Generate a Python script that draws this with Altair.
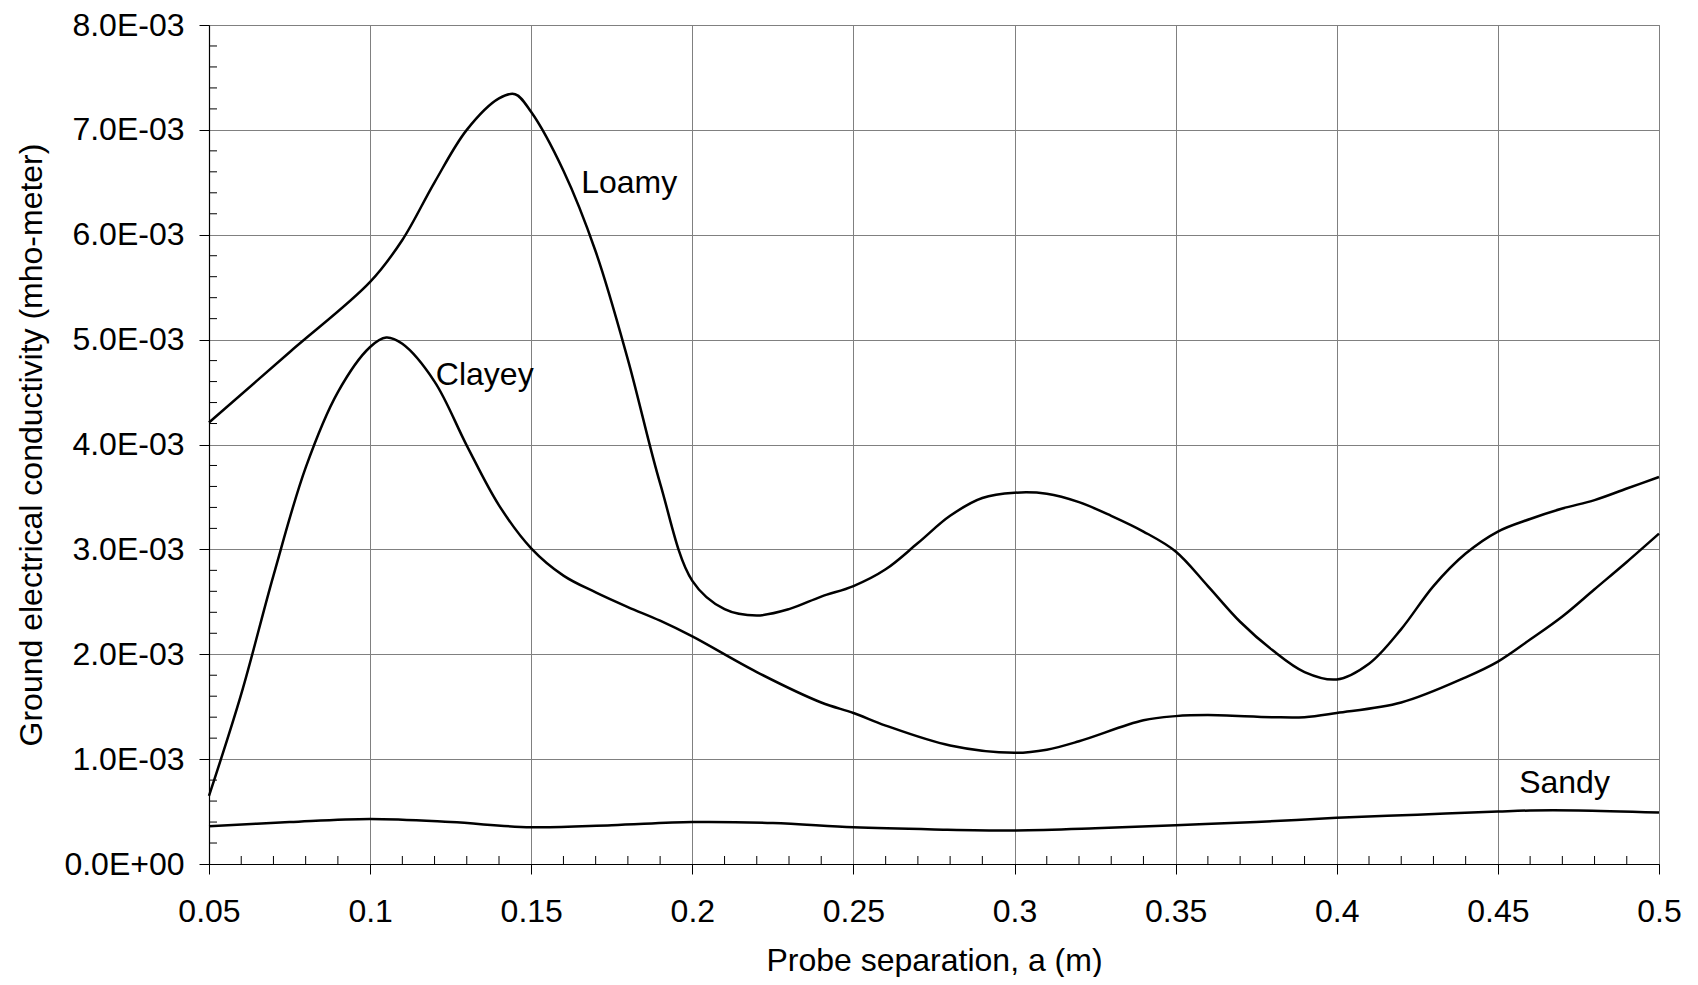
import altair as alt
import pandas as pd

# ---- data ----
loamy_x = [0.05, 0.075, 0.10, 0.11, 0.12, 0.13, 0.14, 0.145, 0.15, 0.16, 0.17, 0.18, 0.19, 0.20,
           0.21, 0.22, 0.23, 0.24, 0.25, 0.26, 0.27, 0.28, 0.29, 0.30, 0.31, 0.32, 0.33, 0.34,
           0.35, 0.36, 0.37, 0.38, 0.39, 0.40, 0.41, 0.42, 0.43, 0.44, 0.45, 0.46, 0.47, 0.48,
           0.49, 0.50]
loamy_y = [4.21, 4.88, 5.55, 5.95, 6.50, 7.00, 7.30, 7.34, 7.17, 6.61, 5.84, 4.81, 3.63, 2.70,
           2.43, 2.37, 2.43, 2.55, 2.65, 2.81, 3.06, 3.32, 3.49, 3.54, 3.53, 3.45, 3.32, 3.17,
           2.98, 2.65, 2.31, 2.04, 1.83, 1.76, 1.91, 2.24, 2.65, 2.96, 3.17, 3.29, 3.39, 3.47,
           3.58, 3.69]

clayey_x = [0.05, 0.06, 0.07, 0.08, 0.09, 0.10, 0.105, 0.11, 0.12, 0.13, 0.14, 0.15, 0.16,
            0.17, 0.18, 0.19, 0.20, 0.22, 0.24, 0.25, 0.26, 0.28, 0.30, 0.31, 0.32, 0.34,
            0.35, 0.36, 0.38, 0.39, 0.40, 0.42, 0.44, 0.45, 0.46, 0.47, 0.48, 0.49, 0.50]
clayey_y = [0.65, 1.62, 2.75, 3.78, 4.50, 4.93, 5.02, 4.96, 4.60, 3.99, 3.42, 3.01, 2.75,
            2.59, 2.45, 2.32, 2.17, 1.83, 1.54, 1.44, 1.32, 1.13, 1.06, 1.09, 1.17, 1.37,
            1.41, 1.42, 1.40, 1.40, 1.44, 1.54, 1.78, 1.93, 2.14, 2.36, 2.62, 2.88, 3.15]

sandy_x = [0.05, 0.075, 0.10, 0.125, 0.15, 0.175, 0.20, 0.225, 0.25, 0.275, 0.30, 0.325,
           0.35, 0.375, 0.40, 0.425, 0.45, 0.46, 0.475, 0.50]
sandy_y = [0.36, 0.40, 0.43, 0.40, 0.35, 0.37, 0.40, 0.39, 0.35, 0.33, 0.32, 0.34,
           0.37, 0.40, 0.44, 0.47, 0.50, 0.51, 0.51, 0.49]

label_text = ["Loamy", "Clayey", "Sandy"]
label_x = [0.1655, 0.1204, 0.4566]
label_y = [6.49, 4.66, 0.77]

x_ticks = [0.05, 0.1, 0.15, 0.2, 0.25, 0.3, 0.35, 0.4, 0.45, 0.5]
y_ticks = [0.0, 0.001, 0.002, 0.003, 0.004, 0.005, 0.006, 0.007, 0.008]
x_minor = [round(0.05 + 0.01 * i, 2) for i in range(46) if i % 5 != 0]
y_minor = [round(0.0002 * i, 4) for i in range(41) if i % 5 != 0]

# ---- tables ----
rows = []
for name, xs, ys in (("Loamy", loamy_x, loamy_y), ("Clayey", clayey_x, clayey_y), ("Sandy", sandy_x, sandy_y)):
    for i, (xv, yv) in enumerate(zip(xs, ys)):
        rows.append({"soil": name, "a": xv, "sigma": yv * 1e-3, "order": i})
df = pd.DataFrame(rows)
labels = pd.DataFrame({"text": label_text, "a": label_x, "sigma": [v * 1e-3 for v in label_y]})
xminor_df = pd.DataFrame({"a": x_minor})
yminor_df = pd.DataFrame({"sigma": y_minor})

W, H = 1450, 839
FONT = "Liberation Sans"
FS = 32

xscale = alt.Scale(domain=[0.05, 0.5], nice=False, zero=False)
yscale = alt.Scale(domain=[0, 0.008], nice=False, zero=True)

xaxis = alt.Axis(values=x_ticks, format=".2~f", title="Probe separation, a (m)",
                 grid=True, gridColor="#808080", gridWidth=1,
                 domainColor="black", domainWidth=1.2, tickColor="black", tickSize=10, tickWidth=1,
                 labelFont=FONT, labelFontSize=FS, labelColor="black", labelPadding=22,
                 labelFlush=False, labelOverlap=False,
                 titleFont=FONT, titleFontSize=FS, titleFontWeight="normal", titleColor="black",
                 titleBaseline="alphabetic", titleY=106)
yaxis = alt.Axis(values=y_ticks,
                 labelExpr="datum.value == 0 ? '0.0E+00' : format(datum.value * 1000, '.1f') + 'E-03'",
                 title="Ground electrical conductivity (mho-meter)",
                 grid=True, gridColor="#808080", gridWidth=1,
                 domainColor="black", domainWidth=1.2, tickColor="black", tickSize=10, tickWidth=1,
                 labelFont=FONT, labelFontSize=FS, labelColor="black", labelPadding=15,
                 labelFlush=False, labelOverlap=False,
                 titleFont=FONT, titleFontSize=FS, titleFontWeight="normal", titleColor="black",
                 titleAngle=270, titleBaseline="alphabetic", titleAlign="center",
                 titleX=-168, titleY=H / 2)

lines = alt.Chart(df).mark_line(color="black", strokeWidth=2.5, interpolate="catmull-rom").encode(
    x=alt.X("a:Q", scale=xscale, axis=xaxis),
    y=alt.Y("sigma:Q", scale=yscale, axis=yaxis),
    detail="soil:N",
    order="order:Q",
)

texts = alt.Chart(labels).mark_text(font=FONT, fontSize=FS, color="black", align="left",
                                    baseline="middle").encode(
    x=alt.X("a:Q", scale=xscale),
    y=alt.Y("sigma:Q", scale=yscale),
    text="text:N",
)

xminor = alt.Chart(xminor_df).mark_rule(color="black", strokeWidth=1).encode(
    x=alt.X("a:Q", scale=xscale),
    y=alt.value(H),
    y2=alt.value(H - 8),
)
yminor = alt.Chart(yminor_df).mark_rule(color="black", strokeWidth=1).encode(
    y=alt.Y("sigma:Q", scale=yscale),
    x=alt.value(0),
    x2=alt.value(8),
)

chart = alt.layer(xminor, yminor, lines, texts).properties(
    width=W, height=H,
    autosize=alt.AutoSizeParams(type="none"),
    padding={"left": 201, "top": 17, "right": 30, "bottom": 113},
    background="white",
).configure_view(stroke="#808080", strokeWidth=1)

chart.save("out.html", embed_options={"renderer": "svg", "actions": False})
